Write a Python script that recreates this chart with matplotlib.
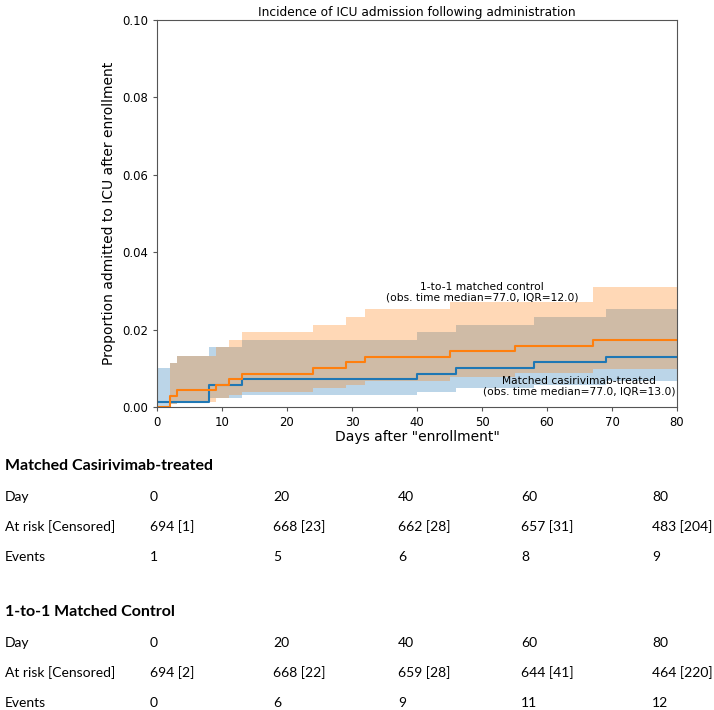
import numpy as np
import matplotlib
matplotlib.use("Agg")
import matplotlib.pyplot as plt

# cumulative incidence (step changes, 'post')
treated_t = [0, 8, 13, 40, 46, 58, 69, 80]
treated_y = [0.0014, 0.0058, 0.0072, 0.0086, 0.0101, 0.0115, 0.0130, 0.0130]

control_t = [0, 2, 3, 9, 11, 13, 24, 29, 32, 45, 55, 67, 80]
control_y = [0.0, 0.0029, 0.0043, 0.0058, 0.0072, 0.0086, 0.0101, 0.0115,
             0.0130, 0.0144, 0.0158, 0.0173, 0.0173]

# confidence bands
treated_ci_t = [0, 2, 3, 8, 13, 40, 46, 58, 69, 80]
treated_lo = [0.0002, 0.0007, 0.0014, 0.0022, 0.0030, 0.0039, 0.0048, 0.0058, 0.0068, 0.0068]
treated_hi = [0.0102, 0.0114, 0.0133, 0.0154, 0.0174, 0.0194, 0.0213, 0.0233, 0.0252, 0.0252]

control_ci_t = [0, 2, 3, 9, 11, 13, 24, 29, 32, 45, 55, 67, 80]
control_lo = [0.0, 0.0007, 0.0014, 0.0022, 0.0030, 0.0039, 0.0048, 0.0058,
              0.0068, 0.0077, 0.0088, 0.0098, 0.0098]
control_hi = [0.0, 0.0114, 0.0133, 0.0154, 0.0174, 0.0193, 0.0213, 0.0233,
              0.0252, 0.0271, 0.0271, 0.0311, 0.0311]

# at-risk tables
table_days = ["0", "20", "40", "60", "80"]
treated_risk = ["694 [1]", "668 [23]", "662 [28]", "657 [31]", "483 [204]"]
treated_events = ["1", "5", "6", "8", "9"]
control_risk = ["694 [2]", "668 [22]", "659 [28]", "644 [41]", "464 [220]"]
control_events = ["0", "6", "9", "11", "12"]

W, H = 714, 710
fig = plt.figure(figsize=(W / 100, H / 100), dpi=100)
ax = fig.add_axes([157 / W, 1 - 407 / H, (677 - 157) / W, (407 - 20) / H])

blue = "#1f77b4"
orange = "#ff7f0e"

ax.fill_between(treated_ci_t, treated_lo, treated_hi, step="post",
                color=blue, alpha=0.3, linewidth=0)
ax.fill_between(control_ci_t, control_lo, control_hi, step="post",
                color=orange, alpha=0.3, linewidth=0)
ax.step(treated_t, treated_y, where="post", color=blue, lw=1.5)
ax.step(control_t, control_y, where="post", color=orange, lw=1.5)

ax.text(50, 0.0297, "1-to-1 matched control\n(obs. time median=77.0, IQR=12.0)",
        ha="center", va="center", fontsize=7.7, linespacing=1.1)
ax.text(65, 0.0053, "Matched casirivimab-treated\n(obs. time median=77.0, IQR=13.0)",
        ha="center", va="center", fontsize=7.7, linespacing=1.1)

ax.set_xlim(0, 80)
ax.set_ylim(0, 0.10)
ax.set_xticks(np.arange(0, 81, 10))
ax.set_yticks(np.arange(0, 0.101, 0.02))
ax.yaxis.set_major_formatter(matplotlib.ticker.FormatStrFormatter("%.2f"))
ax.tick_params(labelsize=8.4, length=3, color="#555555")
for s in ax.spines.values():
    s.set_color("#555555")
ax.set_title("Incidence of ICU admission following administration",
             fontsize=8.8, pad=3)
ax.set_xlabel('Days after "enrollment"', fontsize=10, labelpad=1)
ax.set_ylabel("Proportion admitted to ICU after enrollment", fontsize=10, labelpad=4)

# risk tables below the plot
col_x = [150, 273, 398, 521, 652]
tfont = ["Lato", "DejaVu Sans"]


def draw_table(top, title, risk, events):
    fig.text(5 / W, 1 - top / H, title, fontsize=11.5, fontweight="bold",
             family=tfont, va="center")
    rows = [("Day", table_days), ("At risk [Censored]", risk), ("Events", events)]
    for i, (lab, vals) in enumerate(rows):
        y = 1 - (top + 31 + 30 * i) / H
        fig.text(5 / W, y, lab, fontsize=10, family=tfont, va="center")
        for x, v in zip(col_x, vals):
            fig.text(x / W, y, v, fontsize=10, family=tfont, va="center")


draw_table(466, "Matched Casirivimab-treated", treated_risk, treated_events)
draw_table(612, "1-to-1 Matched Control", control_risk, control_events)

fig.savefig("out.png", dpi=100)
